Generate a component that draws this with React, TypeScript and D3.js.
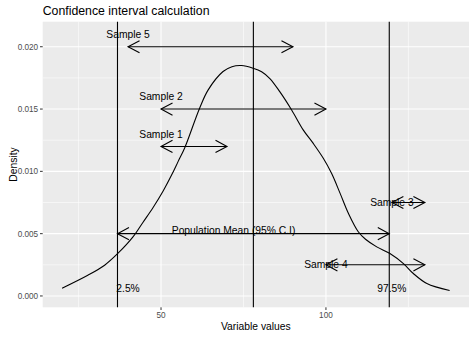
import React from "react";
import * as d3 from "d3";

const densityX = [20, 27.8, 32.9, 36.9, 41.5, 44.5, 47.6, 50.6, 53.2, 55.2, 57.2, 61.7, 64.3, 68.8, 71.5, 74.4, 77.9, 80.5, 83.0, 86.0, 89.6, 93.1, 96.1, 99.2, 101.7, 104.3, 106.8, 109.8, 112.0, 115.4, 119.4, 123.5, 126.5, 130.6, 137.5];
const densityY = [0.00062, 0.00166, 0.00247, 0.00341, 0.00474, 0.0059, 0.0071, 0.0084, 0.0097, 0.0108, 0.0119, 0.01507, 0.01654, 0.01801, 0.0184, 0.01849, 0.01828, 0.018, 0.01745, 0.0164, 0.01493, 0.01333, 0.01226, 0.01105, 0.00984, 0.00823, 0.00663, 0.00515, 0.00455, 0.00394, 0.00341, 0.0026, 0.0018, 0.001, 0.00044];

const vlineValues = [36.8, 78, 119.2];

const arrowLabels = ["Sample 1", "Sample 2", "Sample 3", "Sample 4", "Sample 5", "Population Mean (95% C.I)"];
const arrowLower = [50, 50, 120, 100, 40, 36.8];
const arrowUpper = [70, 100, 130, 130, 90, 119.2];
const arrowY = [0.012, 0.015, 0.0075, 0.0025, 0.02, 0.005];
const labelX = [50, 50, 120, 100, 40, 72];
const labelY = [0.013, 0.016, 0.0075, 0.0025, 0.021, 0.0053];

const pctLabels = ["2.5%", "97.5%"];
const pctX = [40, 120];
const pctY = [0.0006, 0.0006];

const xTicks = [50, 100];
const xMinor = [25, 75, 125];
const yTicks = [0, 0.005, 0.01, 0.015, 0.02];
const yMinor = [0.0025, 0.0075, 0.0125, 0.0175];

const W = 474, H = 338;
const L = 42.7, R = 469, T = 21.7, B = 307.3;
const FONT = "'Liberation Sans', Arial, sans-serif";

export default function App() {
  const x = d3.scaleLinear().domain([14.125, 143.375]).range([L, R]);
  const y = d3.scaleLinear().domain([-0.00091, 0.02201]).range([B, T]);
  const line = d3.line<number>().x((_, i) => x(densityX[i])).y((d) => y(d)).curve(d3.curveCatmullRom.alpha(0.5));

  const head = (tx: number, ty: number, dir: number) => {
    const len = 13, ang = (28 * Math.PI) / 180;
    const dx = -dir * len * Math.cos(ang), dy = len * Math.sin(ang);
    return `M${tx + dx},${ty - dy}L${tx},${ty}L${tx + dx},${ty + dy}`;
  };

  return (
    <svg width={W} height={H} style={{ position: "absolute", left: 0, top: 0 }}>
      <rect x={0} y={0} width={W} height={H} fill="white" />
      <rect x={L} y={T} width={R - L} height={B - T} fill="#EBEBEB" />
      {xMinor.map((v) => (
        <line key={"xm" + v} x1={x(v)} x2={x(v)} y1={T} y2={B} stroke="white" strokeWidth={0.55} />
      ))}
      {yMinor.map((v) => (
        <line key={"ym" + v} x1={L} x2={R} y1={y(v)} y2={y(v)} stroke="white" strokeWidth={0.55} />
      ))}
      {xTicks.map((v) => (
        <line key={"xM" + v} x1={x(v)} x2={x(v)} y1={T} y2={B} stroke="white" strokeWidth={1.1} />
      ))}
      {yTicks.map((v) => (
        <line key={"yM" + v} x1={L} x2={R} y1={y(v)} y2={y(v)} stroke="white" strokeWidth={1.1} />
      ))}

      <path d={line(densityY) || ""} fill="none" stroke="black" strokeWidth={1.1} />

      {vlineValues.map((v) => (
        <line key={"v" + v} x1={x(v)} x2={x(v)} y1={T} y2={B} stroke="black" strokeWidth={1.1} />
      ))}

      {arrowLabels.map((lab, i) => {
        const x0 = x(arrowLower[i]), x1 = x(arrowUpper[i]), yy = y(arrowY[i]);
        return (
          <g key={"a" + i}>
            <line x1={x0} x2={x1} y1={yy} y2={yy} stroke="black" strokeWidth={1.1} />
            <path d={head(x0, yy, -1)} fill="none" stroke="black" strokeWidth={1.1} />
            <path d={head(x1, yy, 1)} fill="none" stroke="black" strokeWidth={1.1} />
          </g>
        );
      })}
      {arrowLabels.map((lab, i) => (
        <text key={"l" + i} x={x(labelX[i])} y={y(labelY[i])} dy="0.35em" textAnchor="middle" fontFamily={FONT} fontSize={10.3} fill="black">
          {lab}
        </text>
      ))}
      {pctLabels.map((lab, i) => (
        <text key={"p" + i} x={x(pctX[i])} y={y(pctY[i])} dy="0.35em" textAnchor="middle" fontFamily={FONT} fontSize={10.3} fill="black">
          {lab}
        </text>
      ))}

      {yTicks.map((v) => (
        <g key={"yt" + v}>
          <line x1={L - 2.7} x2={L} y1={y(v)} y2={y(v)} stroke="#333333" strokeWidth={1} />
          <text x={L - 4.5} y={y(v)} dy="0.35em" textAnchor="end" fontFamily={FONT} fontSize={8.2} fill="#4D4D4D">
            {d3.format(".3f")(v)}
          </text>
        </g>
      ))}
      {xTicks.map((v) => (
        <g key={"xt" + v}>
          <line x1={x(v)} x2={x(v)} y1={B} y2={B + 2.7} stroke="#333333" strokeWidth={1} />
          <text x={x(v)} y={B + 4.5} dy="0.75em" textAnchor="middle" fontFamily={FONT} fontSize={8.2} fill="#4D4D4D">
            {v}
          </text>
        </g>
      ))}

      <text x={(L + R) / 2} y={330} textAnchor="middle" fontFamily={FONT} fontSize={10.3} fill="black">
        Variable values
      </text>
      <text transform={`translate(16.5,${(T + B) / 2}) rotate(-90)`} textAnchor="middle" fontFamily={FONT} fontSize={10.3} fill="black">
        Density
      </text>
      <text x={L} y={15} fontFamily={FONT} fontSize={12.3} fill="black">
        Confidence interval calculation
      </text>
    </svg>
  );
}
